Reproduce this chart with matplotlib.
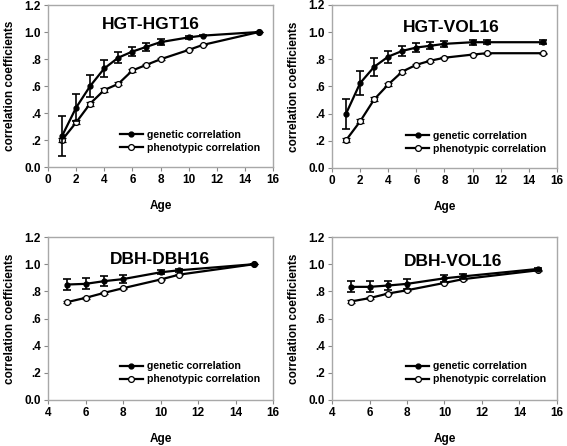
import matplotlib
matplotlib.use("Agg")
import matplotlib.pyplot as plt
from matplotlib.ticker import FixedLocator, FixedFormatter
from matplotlib.lines import Line2D

plt.rcParams['font.family'] = ['Liberation Sans', 'DejaVu Sans']
plt.rcParams['font.weight'] = 'bold'

# ---- data ----
age_hgt = [1, 2, 3, 4, 5, 6, 7, 8, 10, 11, 15]
age_dbh = [5, 6, 7, 8, 10, 11, 15]

hh_gen = [0.23, 0.44, 0.60, 0.73, 0.81, 0.855, 0.89, 0.925, 0.96, 0.973, 1.0]
hh_gen_err = [0.15, 0.10, 0.08, 0.06, 0.04, 0.035, 0.03, 0.02, 0.01, 0.006, 0.0]
hh_phe = [0.20, 0.33, 0.47, 0.57, 0.616, 0.715, 0.757, 0.798, 0.867, 0.904, 1.0]
hh_phe_err = [0.015, 0.015, 0.015, 0.012, 0.012, 0.01, 0.008, 0.006, 0.004, 0.003, 0.0]

hv_gen = [0.40, 0.625, 0.745, 0.82, 0.862, 0.887, 0.90, 0.914, 0.926, 0.926, 0.926]
hv_gen_err = [0.11, 0.09, 0.065, 0.045, 0.035, 0.03, 0.025, 0.02, 0.02, 0.015, 0.015]
hv_phe = [0.205, 0.343, 0.505, 0.615, 0.71, 0.76, 0.79, 0.812, 0.835, 0.845, 0.845]
hv_phe_err = [0.015, 0.015, 0.015, 0.012, 0.01, 0.008, 0.006, 0.005, 0.004, 0.003, 0.003]

dd_gen = [0.85, 0.855, 0.875, 0.89, 0.94, 0.955, 1.0]
dd_gen_err = [0.04, 0.04, 0.035, 0.03, 0.015, 0.01, 0.0]
dd_phe = [0.72, 0.752, 0.789, 0.823, 0.887, 0.923, 1.0]
dd_phe_err = [0.008, 0.007, 0.006, 0.005, 0.004, 0.003, 0.0]

dv_gen = [0.833, 0.833, 0.843, 0.855, 0.896, 0.91, 0.965]
dv_gen_err = [0.04, 0.04, 0.035, 0.035, 0.025, 0.02, 0.005]
dv_phe = [0.725, 0.75, 0.784, 0.808, 0.862, 0.89, 0.955]
dv_phe_err = [0.008, 0.007, 0.006, 0.005, 0.004, 0.003, 0.003]

titles = ["HGT-HGT16", "HGT-VOL16", "DBH-DBH16", "DBH-VOL16"]
series_labels = ["genetic correlation", "phenotypic correlation"]
y_ticks = [0.0, 0.2, 0.4, 0.6, 0.8, 1.0, 1.2]
y_tick_labels = ["0.0", ".2", ".4", ".6", ".8", "1.0", "1.2"]
x_ticks_top = [0, 2, 4, 6, 8, 10, 12, 14, 16]
x_ticks_bot = [4, 6, 8, 10, 12, 14, 16]

panels = [
    (age_hgt, hh_gen, hh_gen_err, hh_phe, hh_phe_err, x_ticks_top),
    (age_hgt, hv_gen, hv_gen_err, hv_phe, hv_phe_err, x_ticks_top),
    (age_dbh, dd_gen, dd_gen_err, dd_phe, dd_phe_err, x_ticks_bot),
    (age_dbh, dv_gen, dv_gen_err, dv_phe, dv_phe_err, x_ticks_bot),
]

W, H = 567, 446
fig = plt.figure(figsize=(W / 100, H / 100), dpi=100)

rects = [
    (48, 5, 273, 167),
    (332, 5, 557, 168),
    (48, 237, 273, 400),
    (332, 237, 557, 400),
]
title_pos = [(0.458, 0.877), (0.529, 0.86), (0.498, 0.86), (0.538, 0.847)]
leg_anchor = [(0.30, 0.06), (0.31, 0.06), (0.30, 0.07), (0.31, 0.07)]

gen_style = dict(color="black", lw=1.6, marker="o", ms=3.5, mfc="black", mec="black")
phe_style = dict(color="black", lw=1.6, marker="o", ms=4.2, mfc="white", mec="black", mew=0.9)

spine_c = "#a8a8a8"
for i, (x, g, ge, p, pe, xt) in enumerate(panels):
    l, t, r, b = rects[i]
    ax = fig.add_axes([l / W, 1 - b / H, (r - l) / W, (b - t) / H])
    ax.errorbar(x, g, yerr=ge, capsize=2.8, elinewidth=1.2, capthick=1.2,
                zorder=3, **gen_style)
    ax.errorbar(x, p, yerr=pe, capsize=2.8, elinewidth=1.0, capthick=1.0,
                zorder=2, **phe_style)
    ax.set_xlim(xt[0], xt[-1])
    ax.set_ylim(0, 1.2)
    ax.xaxis.set_major_locator(FixedLocator(xt))
    ax.yaxis.set_major_locator(FixedLocator(y_ticks))
    ax.yaxis.set_major_formatter(FixedFormatter(y_tick_labels))
    for s in ax.spines.values():
        s.set_color(spine_c)
        s.set_linewidth(1.0)
    ax.tick_params(direction="out", length=3, width=0.8, color="#888888",
                   labelsize=8.5, pad=2)
    for lab in ax.get_xticklabels() + ax.get_yticklabels():
        lab.set_fontweight("bold")
    ax.set_xlabel("Age", fontsize=8.5, fontweight="bold", labelpad=10)
    ax.set_ylabel("correlation coefficients", fontsize=8.5, fontweight="bold",
                  labelpad=6)
    ax.text(title_pos[i][0], title_pos[i][1], titles[i], transform=ax.transAxes,
            ha="center", va="center", fontsize=12.5, fontweight="bold")
    handles = [Line2D([], [], **gen_style), Line2D([], [], **phe_style)]
    leg = ax.legend(handles, series_labels, loc="lower left",
                    bbox_to_anchor=leg_anchor[i], frameon=False,
                    fontsize=7.6, handlelength=2.2, handletextpad=0.4,
                    labelspacing=0.3, borderaxespad=0.0)
    for txt in leg.get_texts():
        txt.set_fontweight("bold")

fig.savefig("out.png", dpi=100)
